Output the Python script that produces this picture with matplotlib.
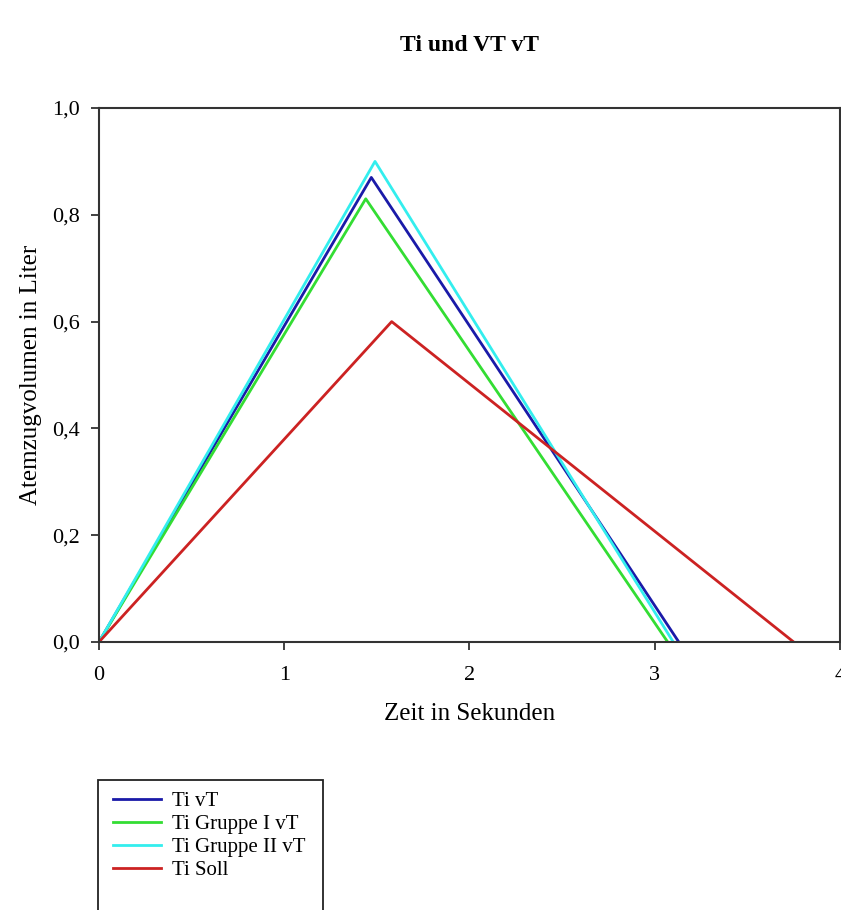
import matplotlib.pyplot as plt
from matplotlib.patches import Rectangle
from matplotlib.ticker import FuncFormatter

plt.rcParams['font.family'] = ['Liberation Serif', 'DejaVu Serif']

# Zeitpunkte (s) und Volumen (l): Start, Spitze, Ende
ti_vt_x = [0, 1.47, 3.13]
ti_vt_y = [0, 0.87, 0]
g1_x = [0, 1.44, 3.07]
g1_y = [0, 0.83, 0]
g2_x = [0, 1.49, 3.10]
g2_y = [0, 0.90, 0]
soll_x = [0, 1.58, 3.75]
soll_y = [0, 0.60, 0]

labels = ["Ti vT", "Ti Gruppe I vT", "Ti Gruppe II vT", "Ti Soll"]
colors = ["#1a1aa8", "#33dd33", "#33eeee", "#cc2222"]


def main():
    fig = plt.figure(figsize=(8.41, 9.10), dpi=100)
    ax = fig.add_axes([0.1177, 0.2945, 0.8811, 0.5868])

    series = [(ti_vt_x, ti_vt_y), (g1_x, g1_y), (g2_x, g2_y), (soll_x, soll_y)]
    for (x, y), lab, c in zip(series, labels, colors):
        ax.plot(x, y, color=c, lw=2, label=lab)

    ax.set_xlim(0, 4)
    ax.set_ylim(0, 1.0)
    ax.set_xticks([0, 1, 2, 3, 4])
    ax.set_yticks([0, 0.2, 0.4, 0.6, 0.8, 1.0])
    ax.yaxis.set_major_formatter(FuncFormatter(lambda v, p: f"{v:.1f}".replace(".", ",")))
    ax.tick_params(direction='out', length=6, width=1.3, labelsize=16,
                   color='#333333')
    ax.tick_params(axis='x', pad=11)
    ax.tick_params(axis='y', pad=8)
    for s in ax.spines.values():
        s.set_linewidth(1.5)
        s.set_color('#333333')

    ax.set_xlabel("Zeit in Sekunden", fontsize=18, labelpad=13)
    ax.set_ylabel("Atemzugvolumen in Liter", fontsize=18, labelpad=7)
    fig.text(0.558, 0.95, "Ti und VT vT", fontsize=17, fontweight='bold',
             ha='center', va='center')

    handles, labs = ax.get_legend_handles_labels()
    fig.legend(handles, labs, loc='upper left',
               bbox_to_anchor=(105 / 841, 1 - 783 / 910), frameon=False,
               fontsize=15, handlelength=2.3, handletextpad=0.5,
               labelspacing=0.17, borderaxespad=0)
    fig.patches.append(Rectangle((98 / 841, -0.02), 225 / 841, 0.02 + 130 / 910,
                                 transform=fig.transFigure, fill=False,
                                 edgecolor='#222222', lw=1.3))

    plt.savefig("out.png", dpi=100)


if __name__ == "__main__":
    main()
